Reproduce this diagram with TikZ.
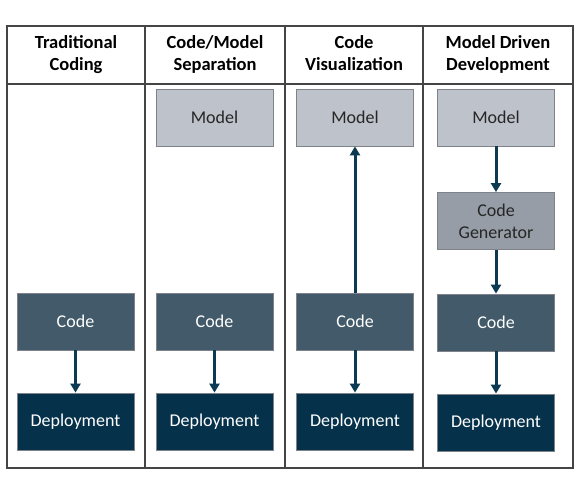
\documentclass[tikz,border=0pt]{standalone}
\usepackage{fontspec}
\setmainfont{Carlito}
\usetikzlibrary{arrows.meta}
\definecolor{modelc}{HTML}{BEC2CA}
\definecolor{genc}{HTML}{969DA7}
\definecolor{codec}{HTML}{425A69}
\definecolor{depc}{HTML}{05314A}
\definecolor{arrc}{HTML}{0C3A52}
\definecolor{edgec}{HTML}{7F8389}
\definecolor{gridc}{HTML}{454545}
\begin{document}
\begin{tikzpicture}[x=1pt,y=-1pt,
  box/.style={draw=edgec,line width=0.8pt,minimum width=117pt,minimum height=57pt,inner sep=0pt,align=center,font=\fontsize{18}{22}\selectfont},
  modelbox/.style={box,fill=modelc,text=black!85},
  genbox/.style={box,fill=genc,text=black!85},
  codebox/.style={box,fill=codec,text=white},
  depbox/.style={box,fill=depc,text=white},
  head/.style={align=center,font=\fontsize{18.5}{22}\selectfont\bfseries,inner sep=0pt},
  grid/.style={draw=gridc,line width=1.2pt},
  flow/.style={draw=arrc,line width=3pt,-{Triangle[length=9pt,width=10pt]}}]
\useasboundingbox (0,0) rectangle (582,498);
% table
\draw[grid] (7,26) rectangle (573,468);
\draw[grid] (7,84) -- (573,84);
\draw[grid] (145,26) -- (145,468);
\draw[grid] (285,26) -- (285,468);
\draw[grid] (423,26) -- (423,468);
% headers
\node[head] (h1) at (76,55) {Traditional\strut\\Coding\strut};
\node[head] (h2) at (215,55) {Code/Model\strut\\Separation\strut};
\node[head] (h3) at (354,55) {Code\strut\\Visualization\strut};
\node[head] (h4) at (498,55) {Model Driven\strut\\Development\strut};
% column 1
\node[codebox] (c1) at (75.5,321.5) {Code};
\node[depbox] (d1) at (75.5,421.5) {Deployment};
% column 2
\node[modelbox] (m2) at (214.5,117.5) {Model};
\node[codebox] (c2) at (214.5,321.5) {Code};
\node[depbox] (d2) at (214.5,421.5) {Deployment};
% column 3
\node[modelbox] (m3) at (355,117.5) {Model};
\node[codebox] (c3) at (355,321.5) {Code};
\node[depbox] (d3) at (355,421.5) {Deployment};
% column 4
\node[modelbox] (m4) at (496,117.5) {Model};
\node[genbox] (g4) at (496,221) {Code\\Generator};
\node[codebox] (c4) at (496,322.5) {Code};
\node[depbox] (d4) at (496,422.5) {Deployment};
% arrows
\draw[flow] (c1) -- (d1);
\draw[flow] (c2) -- (d2);
\draw[flow] (c3) -- (d3);
\draw[flow] (c3) -- (m3);
\draw[flow] (m4) -- (g4);
\draw[flow] (g4) -- (c4);
\draw[flow] (c4) -- (d4);
\end{tikzpicture}
\end{document}
